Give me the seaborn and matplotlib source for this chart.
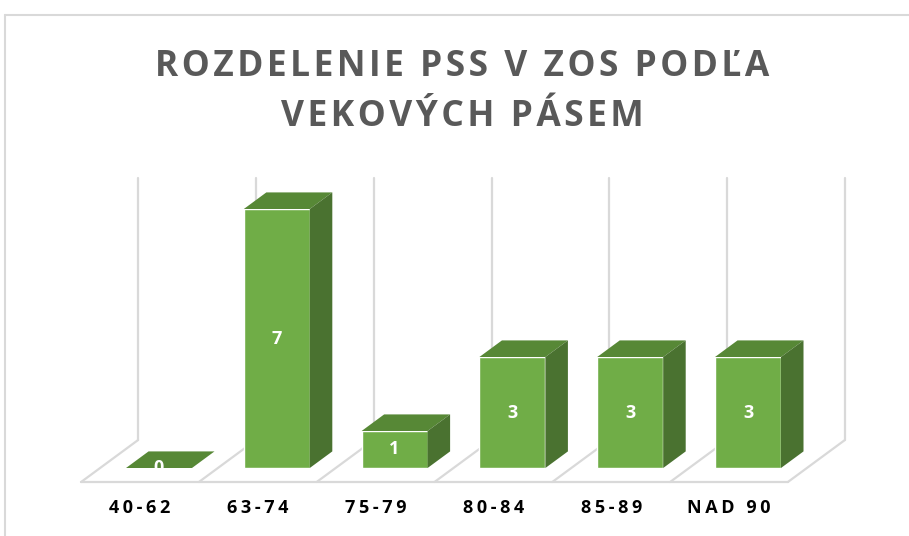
import pandas as pd
import seaborn as sns
import matplotlib.pyplot as plt
from matplotlib.patches import Polygon
from matplotlib.lines import Line2D

# Data
categories = ["40-62", "63-74", "75-79", "80-84", "85-89", "NAD 90"]
counts = [0, 7, 1, 3, 3, 3]
title_lines = ["ROZDELENIE PSS V ZOS PODĽA", "VEKOVÝCH PÁSEM"]

df = pd.DataFrame({"vek": categories, "pocet": counts})

# Colours (Excel green 3D column)
FRONT = "#70AD47"
TOP = "#578836"
SIDE = "#4A7230"
GRID = "#D9D9D9"

# fake 3D: depth vector of the floor in data units (x = categories, y = counts)
DX, DY = 0.484, 1.135
FLOOR_FRONT, FLOOR_BACK = -1 / 3, 2 / 3
BAR_D = 0.395
WALL_TOP = 7.08


def spaced(s, sp="\u200a"):
    return sp.join(s)


sns.set_theme(style="white")
plt.rcParams["font.family"] = ["Open Sans", "DejaVu Sans"]

fig = plt.figure(figsize=(9.09, 5.36), dpi=100)
ax = fig.add_axes([0, 0, 1, 1])

# Bars (front faces)
sns.barplot(data=df, x="vek", y="pocet", color=FRONT, saturation=1,
            width=0.56, ax=ax, zorder=2)

# Floor and back wall grid
n = len(categories)
for k in range(n + 1):
    xb = k - 0.5
    x_front, y_front = xb + FLOOR_FRONT * DX, FLOOR_FRONT * DY
    x_back, y_back = xb + FLOOR_BACK * DX, FLOOR_BACK * DY
    ax.plot([x_front, x_back], [y_front, y_back], color=GRID, lw=1.6, zorder=0.5)
    ax.plot([x_back, x_back], [y_back, y_back + WALL_TOP], color=GRID, lw=1.6, zorder=0.5)
ax.plot([-0.5 + FLOOR_FRONT * DX, n - 0.5 + FLOOR_FRONT * DX],
        [FLOOR_FRONT * DY, FLOOR_FRONT * DY], color=GRID, lw=1.6, zorder=0.5)

# Top and side faces + labels
bdx, bdy = BAR_D * DX, BAR_D * DY
for bar, v in zip(ax.patches, counts):
    x0, w, h = bar.get_x(), bar.get_width(), bar.get_height()
    top = Polygon([(x0, h), (x0 + w, h), (x0 + w + bdx, h + bdy), (x0 + bdx, h + bdy)],
                  closed=True, facecolor=TOP, edgecolor="none", zorder=2)
    side = Polygon([(x0 + w, 0), (x0 + w + bdx, bdy), (x0 + w + bdx, h + bdy), (x0 + w, h)],
                   closed=True, facecolor=SIDE, edgecolor="none", zorder=2)
    ax.add_patch(top)
    ax.add_patch(side)
    ax.text(x0 + w / 2, h / 2, str(v), color="white", fontsize=13,
            fontweight="bold", ha="center", va="center", zorder=3)

# Category labels on the front edge of the floor
for i, c in enumerate(categories):
    ax.text(i + FLOOR_FRONT * DX, -1.08, spaced(c, "\u2009"), fontsize=13,
            fontweight="bold", color="black", ha="center", va="center")

ax.set_xlim(-159 / 117.8, 750 / 117.8)
ax.set_ylim(-68 / 37, 468 / 37)
ax.axis("off")

# Title
title_x = 0.5 + 8 / 909
fig.text(title_x, 1 - 76 / 536, spaced(title_lines[0]), ha="center", va="baseline",
         fontsize=25.5, fontweight="bold", color="#595959")
fig.text(title_x, 1 - 126 / 536, spaced(title_lines[1]), ha="center", va="baseline",
         fontsize=25.5, fontweight="bold", color="#595959")

# Chart frame
fig.add_artist(Line2D([5 / 909, 5 / 909], [0, 1 - 15 / 536], transform=fig.transFigure,
                      color=GRID, lw=1.5))
fig.add_artist(Line2D([5 / 909, 1], [1 - 15 / 536, 1 - 15 / 536], transform=fig.transFigure,
                      color=GRID, lw=1.5))

fig.savefig("out.png", dpi=100)
